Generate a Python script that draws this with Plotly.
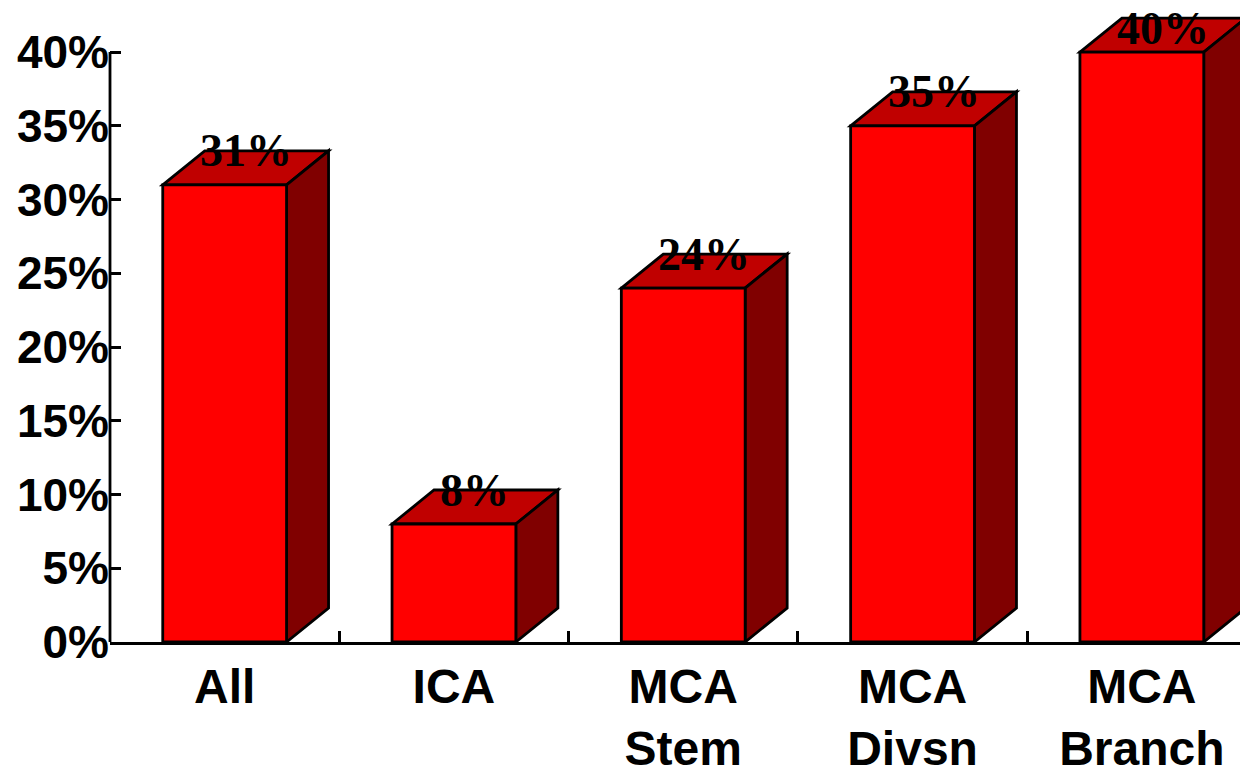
import plotly.graph_objects as go

# Share of cases by vessel segment
categories = ["All", "ICA", "MCA<br>Stem", "MCA<br>Divsn", "MCA<br>Branch"]
values = [31, 8, 24, 35, 40]
y_ticks = [0, 5, 10, 15, 20, 25, 30, 35, 40]
y_tick_labels = [f"{t}%" for t in y_ticks]

# Layout geometry (pixels)
W, H = 1240, 775
M_L, M_B = 110, 133
plot_w = W - M_L
plot_h = H - M_B
cat_px = 229.3                      # pixels per category slot
y_top = 43.53                       # y-range upper bound
px_per_unit = plot_h / y_top

bar_w = 0.54                        # front-face width in category units
depth_x = 42 / cat_px               # oblique depth, x part (category units)
depth_y = 34 / px_per_unit          # oblique depth, y part (data units)
label_ceiling = (plot_h - 28) / px_per_unit

FRONT = "#FF0000"
TOP = "#C00000"
SIDE = "#800000"
EDGE = "black"
EDGE_W = 2.8

fig = go.Figure()
fig.add_trace(go.Bar(
    x=categories, y=values, width=bar_w,
    marker=dict(color=FRONT, line=dict(color=EDGE, width=EDGE_W)),
    hoverinfo="skip",
))

shapes = []
annotations = []
for i, v in enumerate(values):
    x0, x1 = i - bar_w / 2, i + bar_w / 2
    # top face
    shapes.append(dict(
        type="path", xref="x", yref="y", layer="below",
        path=(f"M {x0},{v} L {x0 + depth_x},{v + depth_y} "
              f"L {x1 + depth_x},{v + depth_y} L {x1},{v} Z"),
        fillcolor=TOP, line=dict(color=EDGE, width=EDGE_W),
    ))
    # side face
    shapes.append(dict(
        type="path", xref="x", yref="y", layer="below",
        path=(f"M {x1},0 L {x1 + depth_x},{depth_y} "
              f"L {x1 + depth_x},{v + depth_y} L {x1},{v} Z"),
        fillcolor=SIDE, line=dict(color=EDGE, width=EDGE_W),
    ))
    annotations.append(dict(
        x=i + depth_x / 2, y=min(v + depth_y, label_ceiling),
        xref="x", yref="y", text=f"{v}%", showarrow=False,
        xanchor="center", yanchor="middle",
        font=dict(family="Liberation Serif, Times New Roman, serif",
                  size=46, color="black", weight="bold"),
    ))

# vertical axis line, from 0% up to 40% only
shapes.append(dict(
    type="line", xref="paper", yref="y", x0=0, x1=0,
    y0=0, y1=y_ticks[-1], line=dict(color=EDGE, width=EDGE_W), layer="above",
))

y_font = dict(family="Liberation Sans, Arial, sans-serif", size=46,
              color="black", weight="bold")
x_font = dict(family="Liberation Sans, Arial, sans-serif", size=48,
              color="black", weight="bold")

fig.update_layout(
    width=W, height=H,
    margin=dict(l=M_L, r=0, t=0, b=M_B, pad=0),
    plot_bgcolor="white", paper_bgcolor="white",
    showlegend=False,
    shapes=shapes, annotations=annotations,
    xaxis=dict(
        type="category",
        range=[-0.5, -0.5 + plot_w / cat_px],
        showline=True, linecolor=EDGE, linewidth=EDGE_W,
        ticks="inside", ticklen=11, tickwidth=EDGE_W, tickcolor=EDGE,
        tickson="boundaries",
        showgrid=False, zeroline=False,
        tickfont=x_font,
    ),
    yaxis=dict(
        range=[0, y_top],
        tickvals=y_ticks, ticktext=y_tick_labels,
        ticks="inside", ticklen=11, tickwidth=EDGE_W, tickcolor=EDGE,
        showline=False, showgrid=False, zeroline=False,
        tickfont=y_font,
    ),
)

fig.write_html("out.html")
